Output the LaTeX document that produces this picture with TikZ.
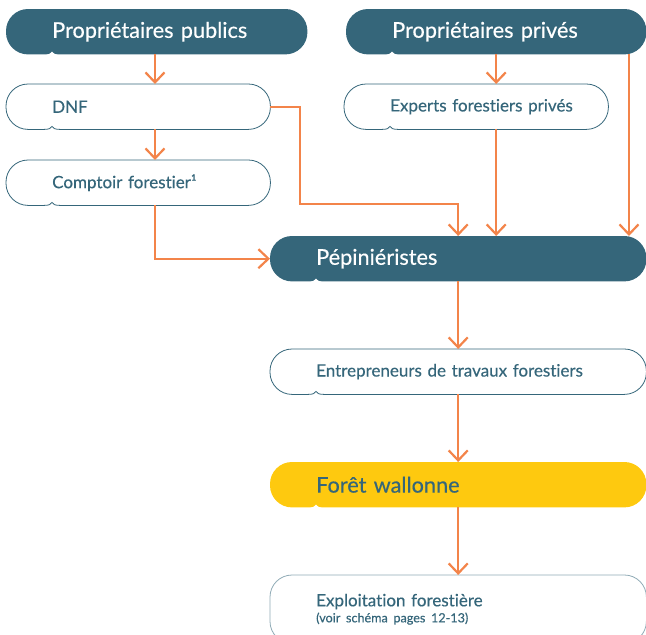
\documentclass[tikz,border=0pt]{standalone}
\usepackage{fontspec}
\setmainfont{Lato}[Ligatures=CommonOff,FakeBold=0.35]
\usetikzlibrary{arrows.meta,calc,backgrounds}

\definecolor{petrol}{HTML}{35667A}
\definecolor{carrot}{HTML}{F3844A}
\definecolor{sun}{HTML}{FEC90F}

% outline of a box: rounded ends, small notch bottom left
\newcommand{\bubble}[2]{%
  \path[#2] let \p1=(#1.south west), \p2=(#1.north east) in
    (\x1+46pt,\y1+3pt) .. controls (\x1+47pt,\y1+1pt) and (\x1+49pt,\y1) .. (\x1+54pt,\y1)
    -- (\x2-22pt,\y1) arc[start angle=-90,end angle=0,radius=22pt]
    -- (\x2,\y2-22pt) arc[start angle=0,end angle=90,radius=22pt]
    -- (\x1+22pt,\y2) arc[start angle=90,end angle=180,radius=22pt]
    -- (\x1,\y1+22pt) arc[start angle=180,end angle=270,radius=22pt]
    -- (\x1+38pt,\y1) .. controls (\x1+43pt,\y1) and (\x1+45pt,\y1+1pt) .. cycle;}

\begin{document}
\begin{tikzpicture}[x=1pt,y=-1pt,
  box/.style={anchor=north west,minimum height=45pt,inner xsep=0pt,inner ysep=0pt,
    align=left,execute at begin node={\leftskip=46pt}},
  title/.style={box,text=white,font=\fontsize{21.7}{24}\selectfont},
  plain/.style={box,text=petrol,font=\fontsize{17}{19}\selectfont},
  flow/.style={carrot,line width=2.2pt,-{Straight Barb[length=10pt,width=19pt]}},
  dark/.style={fill=petrol},
  light/.style={fill=white,draw=petrol,line width=0.8pt}]
\useasboundingbox (0,0) rectangle (646,635);

\node[title,text width=301pt] (pub) at (6,9) {Propriétaires publics};
\node[title,text width=300pt] (priv) at (346,9) {Propriétaires privés};
\node[plain,text width=264pt] (dnf) at (6,84) {DNF};
\node[plain,text width=264pt] (comp) at (6,160) {Comptoir forestier¹};
\node[plain,text width=264pt] (exp) at (344,84) {Experts forestiers privés};
\node[title,text width=376pt] (pep) at (270,236) {Pépiniéristes};
\node[plain,text width=376pt] (entr) at (270,349) {Entrepreneurs de travaux forestiers};
\node[title,text=petrol,text width=376pt] (foret) at (270,462) {Forêt wallonne};
\node[plain,text width=376pt,minimum height=68pt] (expl) at (270,575)
  {Exploitation forestière\\[-3pt]{\fontsize{12.6}{14}\selectfont (voir schéma pages 12-13)}};

\begin{scope}[on background layer]
\bubble{pub}{dark}
\bubble{priv}{dark}
\bubble{pep}{dark}
\bubble{foret}{fill=sun}
\bubble{dnf}{light}
\bubble{comp}{light}
\bubble{exp}{light}
\bubble{entr}{light}
\bubble{expl}{light,draw=petrol!55}
\end{scope}

\coordinate (left) at (155,0);
\coordinate (bend) at (300,204);
\coordinate (right) at (629,0);

\draw[flow] (pub.south -| left) -- (dnf.north -| left);
\draw[flow] (dnf.south -| left) -- (comp.north -| left);
\draw[flow] (comp.south -| left) |- (pep.west);
\draw[flow] (dnf.east) -| (bend) -| (pep.north);
\draw[flow] (priv.south) -- (exp.north -| priv.south);
\draw[flow] (exp.south -| priv.south) -- (pep.north -| priv.south);
\draw[flow] (priv.south -| right) -- (pep.north -| right);
\draw[flow] (pep.south) -- (entr.north);
\draw[flow] (entr.south) -- (foret.north);
\draw[flow] (foret.south) -- (expl.north);
\end{tikzpicture}
\end{document}
